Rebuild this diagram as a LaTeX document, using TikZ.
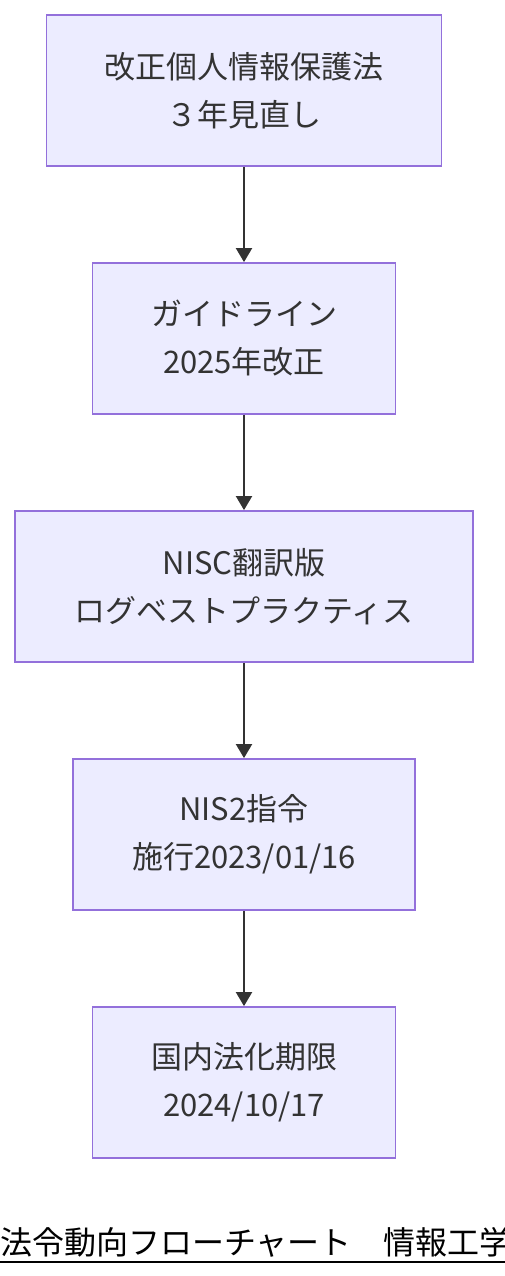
\documentclass[tikz,border=0pt]{standalone}
\usepackage{fontspec}
\setmainfont{Noto Sans CJK JP}
\usetikzlibrary{arrows.meta}
\definecolor{lawfill}{HTML}{ECECFF}
\definecolor{lawline}{HTML}{9370DB}
\definecolor{ink}{HTML}{333333}

\begin{document}
\begin{tikzpicture}[x=1pt,y=-1pt,
  law/.style={draw=lawline,fill=lawfill,line width=1.8pt,minimum height=151pt,inner sep=0pt,
    text=ink,align=center,font=\fontsize{31}{48}\selectfont},
  flow/.style={draw=ink,line width=2pt,-{Triangle[length=14pt,width=16pt]}}]
\useasboundingbox (0,0) rectangle (504,1276);
\node[law,minimum width=395pt](revise) at (244,90.5){改正個人情報保護法\\３年見直し};
\node[law,minimum width=303pt](guide) at (244,338.5){ガイドライン\\2025年改正};
\node[law,minimum width=458pt](nisc) at (244,586.5){NISC翻訳版\\ログベストプラクティス};
\node[law,minimum width=342pt](nis2) at (244,834.5){NIS2指令\\施行2023/01/16};
\node[law,minimum width=303pt](deadline) at (244,1082.5){国内法化期限\\2024/10/17};
\draw[flow](revise)--(guide);
\draw[flow](guide)--(nisc);
\draw[flow](nisc)--(nis2);
\draw[flow](nis2)--(deadline);
% caption, runs off the right edge
\node[anchor=base west,inner sep=0pt,font=\fontsize{32}{32}\selectfont](caption) at (0,1254){法令動向フローチャート　情報工学};
\draw[line width=2pt]([yshift=-8pt]caption.base west)--([yshift=-8pt]caption.base east);
\end{tikzpicture}
\end{document}
